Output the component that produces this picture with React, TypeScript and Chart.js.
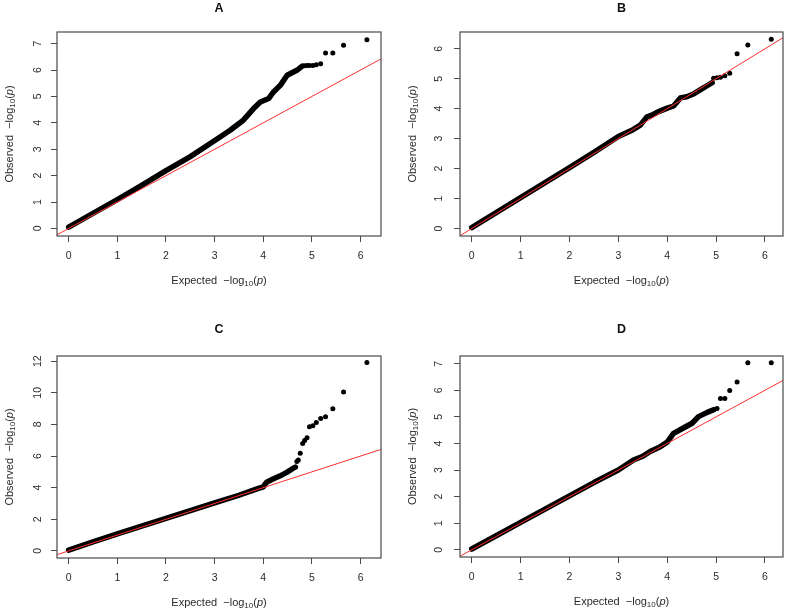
import React, { useEffect, useRef } from "react";
import { Chart, registerables } from "chart.js";

Chart.register(...registerables);

// ---------- data ----------
const panelTitles = ["A", "B", "C", "D"];
const xTicks = [0, 1, 2, 3, 4, 5, 6];
const yTicksA = [0, 1, 2, 3, 4, 5, 6, 7];
const yTicksB = [0, 1, 2, 3, 4, 5, 6];
const yTicksC = [0, 2, 4, 6, 8, 10, 12];
const yTicksD = [0, 1, 2, 3, 4, 5, 6, 7];
const refLine = [-1, 13]; // y = x reference line end points

// Panel A: dense band (expected, observed) and sparse tail points
const bandExpA = [0, 0.5, 1, 1.5, 2, 2.5, 2.91, 3.32, 3.59, 3.8, 3.94, 4.11, 4.21, 4.35, 4.49, 4.69, 4.8];
const bandObsA = [0.05, 0.57, 1.09, 1.63, 2.19, 2.72, 3.22, 3.72, 4.1, 4.54, 4.79, 4.92, 5.17, 5.42, 5.8, 5.99, 6.15];
const tailExpA = [4.85, 4.9, 4.95, 5.02, 5.09, 5.18, 5.28, 5.43, 5.65, 6.13];
const tailObsA = [6.16, 6.17, 6.17, 6.17, 6.2, 6.24, 6.64, 6.64, 6.94, 7.15];

// Panel B
const bandExpB = [0, 0.5, 1, 1.5, 2, 2.5, 3, 3.3, 3.45, 3.58, 3.7, 3.85, 4.0, 4.13, 4.27, 4.4, 4.55, 4.7, 4.85, 4.92];
const bandObsB = [0.03, 0.53, 1.03, 1.53, 2.03, 2.54, 3.07, 3.3, 3.45, 3.72, 3.8, 3.92, 4.02, 4.09, 4.36, 4.4, 4.5, 4.65, 4.8, 4.87];
const tailExpB = [4.95, 5.02, 5.09, 5.18, 5.28, 5.43, 5.65, 6.13];
const tailObsB = [5.02, 5.03, 5.05, 5.1, 5.18, 5.83, 6.13, 6.32];

// Panel C
const bandExpC = [0, 0.5, 1, 1.5, 2, 2.5, 3, 3.5, 3.87, 4.0, 4.07, 4.2, 4.35, 4.49, 4.6, 4.66];
const bandObsC = [0.05, 0.57, 1.08, 1.57, 2.05, 2.55, 3.03, 3.52, 3.92, 4.05, 4.35, 4.55, 4.75, 4.98, 5.2, 5.3];
const tailExpC = [4.69, 4.72, 4.76, 4.81, 4.85, 4.9, 4.95, 5.02, 5.09, 5.18, 5.28, 5.43, 5.65, 6.13];
const tailObsC = [5.65, 5.75, 6.17, 6.8, 6.98, 7.15, 7.85, 7.92, 8.12, 8.38, 8.48, 9.0, 10.06, 11.92];

// Panel D
const bandExpD = [0, 0.5, 1, 1.5, 2, 2.5, 3, 3.31, 3.5, 3.65, 3.85, 4.0, 4.13, 4.34, 4.51, 4.64, 4.82, 4.95];
const bandObsD = [0.03, 0.53, 1.03, 1.53, 2.03, 2.53, 3.0, 3.38, 3.52, 3.7, 3.87, 4.05, 4.38, 4.59, 4.76, 5.01, 5.17, 5.27];
const tailExpD = [5.02, 5.09, 5.18, 5.28, 5.43, 5.65, 6.13];
const tailObsD = [5.32, 5.69, 5.69, 5.99, 6.31, 7.04, 7.04];

const FONT = '"Liberation Sans", Arial, Helvetica, sans-serif';
const TEXT = "#2a2a2a";

type PanelCfg = {
  title: string;
  left: number; top: number; w: number; h: number;
  area: { l: number; r: number; t: number; b: number };
  xMin: number; xMax: number; yMin: number; yMax: number;
  yTicks: number[];
  bandX: number[]; bandY: number[];
  tailX: number[]; tailY: number[];
  yPad: number;
  titleY: number;
};

const panels: PanelCfg[] = [
  {
    title: panelTitles[0], left: 0, top: 0, w: 393, h: 300,
    area: { l: 57, r: 381, t: 32, b: 236 },
    xMin: -0.24, xMax: 6.42, yMin: -0.286, yMax: 7.44, yTicks: yTicksA,
    bandX: bandExpA, bandY: bandObsA, tailX: tailExpA, tailY: tailObsA, yPad: 10, titleY: 8.5,
  },
  {
    title: panelTitles[1], left: 393, top: 0, w: 394, h: 300,
    area: { l: 67, r: 390, t: 32, b: 236 },
    xMin: -0.24, xMax: 6.37, yMin: -0.25, yMax: 6.56, yTicks: yTicksB,
    bandX: bandExpB, bandY: bandObsB, tailX: tailExpB, tailY: tailObsB, yPad: 12, titleY: 8.5,
  },
  {
    title: panelTitles[2], left: 0, top: 300, w: 393, h: 311,
    area: { l: 57, r: 381, t: 56, b: 258 },
    xMin: -0.24, xMax: 6.42, yMin: -0.45, yMax: 12.33, yTicks: yTicksC,
    bandX: bandExpC, bandY: bandObsC, tailX: tailExpC, tailY: tailObsC, yPad: 7, titleY: 30,
  },
  {
    title: panelTitles[3], left: 393, top: 300, w: 394, h: 311,
    area: { l: 67, r: 390, t: 56, b: 257 },
    xMin: -0.24, xMax: 6.37, yMin: -0.27, yMax: 7.29, yTicks: yTicksD,
    bandX: bandExpD, bandY: bandObsD, tailX: tailExpD, tailY: tailObsD, yPad: 12, titleY: 30,
  },
];

function drawMathLabel(ctx: CanvasRenderingContext2D, prefix: string, cx: number, cy: number, rotate: boolean) {
  const main = `11px ${FONT}`;
  const sub = `8px ${FONT}`;
  const ital = `italic 11px ${FONT}`;
  const parts = [
    { t: prefix + "  \u2212log", f: main, dy: 0 },
    { t: "10", f: sub, dy: 3 },
    { t: "(", f: main, dy: 0 },
    { t: "p", f: ital, dy: 0 },
    { t: ")", f: main, dy: 0 },
  ];
  let total = 0;
  const widths = parts.map((p) => {
    ctx.font = p.f;
    const w = ctx.measureText(p.t).width;
    total += w;
    return w;
  });
  ctx.save();
  ctx.translate(cx, cy);
  if (rotate) ctx.rotate(-Math.PI / 2);
  ctx.fillStyle = TEXT;
  ctx.textBaseline = "middle";
  ctx.textAlign = "left";
  let x = -total / 2;
  parts.forEach((p, i) => {
    ctx.font = p.f;
    ctx.fillText(p.t, x, p.dy);
    x += widths[i];
  });
  ctx.restore();
}

function Panel({ cfg }: { cfg: PanelCfg }) {
  const ref = useRef<HTMLCanvasElement | null>(null);
  useEffect(() => {
    if (!ref.current) return;
    const decor = {
      id: "decor" + cfg.title,
      afterDraw(chart: any) {
        const ctx = chart.ctx as CanvasRenderingContext2D;
        const a = chart.chartArea;
        ctx.save();
        ctx.strokeStyle = "#4a4a4a";
        ctx.lineWidth = 1.2;
        ctx.strokeRect(a.left, a.top, a.right - a.left, a.bottom - a.top);
        // panel title
        ctx.fillStyle = "#111";
        ctx.font = `bold 12.5px ${FONT}`;
        ctx.textAlign = "center";
        ctx.textBaseline = "middle";
        ctx.fillText(cfg.title, (a.left + a.right) / 2, cfg.titleY);
        ctx.restore();
        drawMathLabel(ctx, "Expected", (a.left + a.right) / 2, a.bottom + 44.5, false);
        drawMathLabel(ctx, "Observed", a.left - 47.5, (a.top + a.bottom) / 2, true);
      },
    };
    const chart = new Chart(ref.current, {
      type: "scatter",
      data: {
        datasets: [
          {
            type: "line",
            data: refLine.map((v) => ({ x: v, y: v })),
            borderColor: "#ff3030",
            borderWidth: 1,
            pointRadius: 0,
            order: 0,
          },
          {
            type: "line",
            data: cfg.bandX.map((x, i) => ({ x, y: cfg.bandY[i] })),
            borderColor: "#000",
            borderWidth: 5.5,
            pointRadius: 0,
            borderCapStyle: "round",
            borderJoinStyle: "round",
            tension: 0,
            order: 1,
          },
          {
            type: "scatter",
            data: cfg.tailX.map((x, i) => ({ x, y: cfg.tailY[i] })),
            backgroundColor: "#000",
            borderColor: "#000",
            borderWidth: 0,
            pointRadius: 2.5,
            pointStyle: "circle",
            order: 2,
          },
        ],
      } as any,
      options: {
        animation: false,
        responsive: false,
        maintainAspectRatio: false,
        events: [],
        layout: { padding: { top: cfg.area.t, right: cfg.w - cfg.area.r, bottom: 0, left: 0 } },
        plugins: { legend: { display: false }, tooltip: { enabled: false }, title: { display: false } },
        scales: {
          x: {
            type: "linear",
            position: "bottom",
            min: cfg.xMin,
            max: cfg.xMax,
            afterBuildTicks: (s: any) => { s.ticks = xTicks.map((v) => ({ value: v })); },
            afterFit: (s: any) => { s.height = cfg.h - cfg.area.b; },
            border: { display: false },
            grid: { drawOnChartArea: false, drawTicks: true, tickLength: 6, tickColor: "#4a4a4a", tickWidth: 1 },
            ticks: { color: TEXT, font: { family: FONT, size: 10.5 }, padding: 8, maxRotation: 0, minRotation: 0, autoSkip: false },
          },
          y: {
            type: "linear",
            position: "left",
            min: cfg.yMin,
            max: cfg.yMax,
            afterBuildTicks: (s: any) => { s.ticks = cfg.yTicks.map((v) => ({ value: v })); },
            afterFit: (s: any) => { s.width = cfg.area.l; },
            border: { display: false },
            grid: { drawOnChartArea: false, drawTicks: true, tickLength: 6, tickColor: "#4a4a4a", tickWidth: 1 },
            ticks: {
              color: TEXT, font: { family: FONT, size: 10.5 }, padding: cfg.yPad,
              minRotation: 90, maxRotation: 90, crossAlign: "center", autoSkip: false,
            },
          },
        },
      } as any,
      plugins: [decor],
    });
    return () => chart.destroy();
  }, [cfg]);
  return (
    <canvas
      ref={ref}
      width={cfg.w}
      height={cfg.h}
      style={{ position: "absolute", left: cfg.left, top: cfg.top, width: cfg.w, height: cfg.h }}
    />
  );
}

export default function App() {
  return (
    <div style={{ position: "absolute", left: 0, top: 0, width: 787, height: 611, background: "#fff" }}>
      {panels.map((p) => (
        <Panel key={p.title} cfg={p} />
      ))}
    </div>
  );
}
